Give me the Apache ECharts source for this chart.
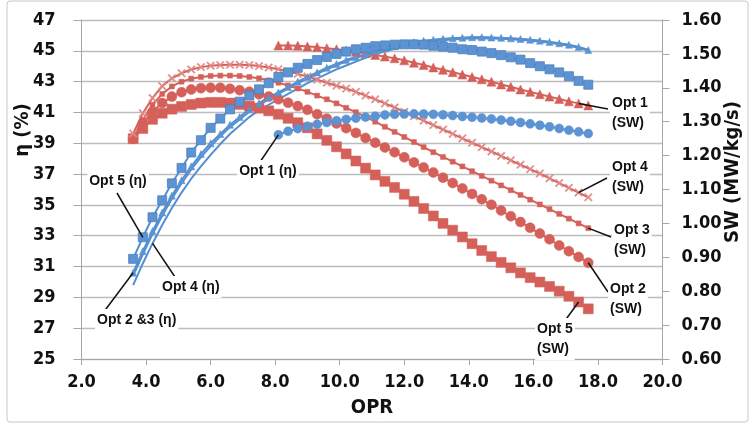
<!DOCTYPE html>
<html>
<head>
<meta charset="utf-8">
<script src="https://cdn.jsdelivr.net/npm/echarts@6/dist/echarts.min.js"></script>
<style>
html,body{margin:0;padding:0;background:#fff;}
#chart{width:749px;height:423px;}
</style>
</head>
<body>
<div id="chart"></div>
<script>
// ---------------- data ----------------
const opr = [3.6,3.9,4.2,4.5,4.8,5.1,5.4,5.7,6.0,6.3,6.6,6.9,7.2,7.5,7.8,8.1,8.4,8.7,9.0,9.3,9.6,9.9,10.2,10.5,10.8,11.1,11.4,11.7,12.0,12.3,12.6,12.9,13.2,13.5,13.8,14.1,14.4,14.7,15.0,15.3,15.6,15.9,16.2,16.5,16.8,17.1,17.4,17.7];
const oprOpt1 = [8.1,8.4,8.7,9.0,9.3,9.6,9.9,10.2,10.5,10.8,11.1,11.4,11.7,12.0,12.3,12.6,12.9,13.2,13.5,13.8,14.1,14.4,14.7,15.0,15.3,15.6,15.9,16.2,16.5,16.8,17.1,17.4,17.7];

// efficiency eta (%) - left axis
const etaOpt1 = [39.55,39.78,39.95,40.1,40.23,40.35,40.46,40.55,40.63,40.7,40.76,40.84,40.88,40.9,40.91,40.9,40.88,40.85,40.8,40.74,40.69,40.64,40.58,40.51,40.43,40.35,40.26,40.17,40.07,39.96,39.85,39.74,39.63];
const etaOpt2 = [30.6,32.0,33.3,34.5,35.6,36.6,37.5,38.3,39.0,39.6,40.2,40.7,41.2,41.6,42.0,42.3,42.65,43.0,43.3,43.6,43.9,44.15,44.4,44.6,44.8,45.0,45.15,45.3,45.45,45.55,45.65,45.72,45.78,45.82,45.85,45.88,45.88,45.86,45.84,45.81,45.77,45.72,45.66,45.58,45.49,45.39,45.25,45.05];
const etaOpt3 = [30.4,31.8,33.1,34.3,35.4,36.4,37.3,38.1,38.8,39.45,40.05,40.55,41.05,41.47,41.87,42.2,42.55,42.9,43.2,43.5,43.8,44.06,44.32,44.53,44.74,44.94,45.1,45.25,45.4,45.51,45.61,45.69,45.75,45.8,45.83,45.86,45.86,45.85,45.83,45.8,45.76,45.71,45.65,45.57,45.48,45.38,45.24,45.05];
const etaOpt4 = [29.8,31.2,32.5,33.7,34.8,35.8,36.7,37.5,38.25,38.95,39.6,40.15,40.7,41.15,41.5,41.85,42.2,42.55,42.9,43.2,43.5,43.8,44.05,44.3,44.55,44.77,44.97,45.14,45.3,45.43,45.53,45.62,45.69,45.74,45.78,45.8,45.81,45.8,45.78,45.75,45.71,45.66,45.6,45.52,45.43,45.33,45.2,45.0];
const etaOpt5 = [31.5,32.9,34.2,35.3,36.4,37.4,38.4,39.2,40.0,40.6,41.2,41.7,42.1,42.5,42.9,43.3,43.6,43.9,44.15,44.4,44.6,44.8,44.95,45.1,45.2,45.3,45.35,45.4,45.42,45.42,45.4,45.33,45.27,45.2,45.1,45.05,44.95,44.85,44.72,44.58,44.43,44.2,44.0,43.8,43.6,43.35,43.05,42.8];

// specific work SW (MW/kg/s) - right axis
const swOpt1 = [1.525,1.525,1.524,1.522,1.52,1.517,1.514,1.51,1.506,1.502,1.497,1.492,1.487,1.481,1.474,1.467,1.46,1.453,1.446,1.439,1.432,1.425,1.418,1.41,1.403,1.395,1.388,1.381,1.374,1.367,1.36,1.354,1.348];
const swOpt2 = [1.25,1.295,1.33,1.355,1.374,1.387,1.395,1.399,1.4,1.4,1.397,1.393,1.388,1.381,1.374,1.366,1.356,1.346,1.335,1.322,1.309,1.295,1.281,1.267,1.252,1.238,1.224,1.21,1.195,1.18,1.165,1.15,1.135,1.119,1.103,1.087,1.071,1.055,1.038,1.021,1.004,0.987,0.97,0.953,0.935,0.918,0.901,0.884];
const swOpt3 = [1.255,1.305,1.35,1.382,1.404,1.418,1.427,1.432,1.435,1.436,1.436,1.435,1.432,1.428,1.422,1.415,1.407,1.398,1.388,1.377,1.366,1.354,1.341,1.328,1.314,1.3,1.285,1.27,1.255,1.24,1.225,1.21,1.196,1.182,1.168,1.154,1.14,1.126,1.112,1.098,1.084,1.07,1.056,1.042,1.028,1.014,1.0,0.986];
const swOpt4 = [1.265,1.325,1.37,1.405,1.428,1.443,1.454,1.461,1.465,1.467,1.468,1.468,1.467,1.464,1.46,1.455,1.448,1.441,1.433,1.424,1.415,1.406,1.398,1.388,1.377,1.366,1.354,1.342,1.329,1.316,1.303,1.29,1.277,1.264,1.251,1.238,1.225,1.212,1.199,1.186,1.173,1.16,1.147,1.133,1.119,1.105,1.091,1.077];
const swOpt5 = [1.25,1.28,1.307,1.325,1.337,1.345,1.351,1.355,1.357,1.357,1.355,1.351,1.346,1.34,1.332,1.322,1.31,1.297,1.282,1.264,1.245,1.226,1.205,1.184,1.163,1.143,1.124,1.106,1.086,1.065,1.044,1.022,1.0,0.98,0.96,0.94,0.92,0.902,0.885,0.869,0.854,0.84,0.827,0.814,0.8,0.785,0.768,0.748];

// axis ticks
const xTicks = {min: 2, max: 20, step: 2};
const etaTicks = {min: 25, max: 47, step: 2};
const swTicks = {min: 0.6, max: 1.6, step: 0.1};

// ---------------- chart ----------------
const BLUE = '#5B93D3';
const BLUE_LINE = '#5390D0';
const RED = '#D5605A';
const FONT = "'Liberation Sans Narrow','DejaVu Sans Condensed','Liberation Sans',sans-serif";
const LFONT = "'Liberation Sans',Arial,sans-serif";

const zip = (xs, ys) => xs.map((x, i) => [x, ys[i]]);
const xPath = 'path://M0,1.2L1.2,0L5,3.8L8.8,0L10,1.2L6.2,5L10,8.8L8.8,10L5,6.2L1.2,10L0,8.8L3.8,5Z';

function mk(name, xs, ys, axis, color, symbol, size, lineColor, extra) {
  return Object.assign({
    name, type: 'line', yAxisIndex: axis, data: zip(xs, ys),
    symbol: symbol, symbolSize: size, showSymbol: symbol !== 'none',
    lineStyle: {color: lineColor || color, width: 2},
    itemStyle: {color: color, borderColor: color, borderWidth: 0.5},
    emphasis: {disabled: true}, z: 3
  }, extra || {});
}

const chart = echarts.init(document.getElementById('chart'), null, {renderer: 'canvas'});

const option = {
  animation: false,
  backgroundColor: '#fff',
  grid: {left: 81.5, right: 86.5, top: 20, bottom: 61, containLabel: false},
  xAxis: {
    type: 'value', min: xTicks.min, max: xTicks.max, interval: xTicks.step,
    axisLine: {show: true, lineStyle: {color: '#A6A6A6', width: 1}},
    axisTick: {show: true, inside: false, length: 6, lineStyle: {color: '#A6A6A6'}},
    splitLine: {show: false},
    axisLabel: {formatter: v => v.toFixed(1), margin: 14, color: '#111', fontFamily: FONT, fontWeight: 'bold', fontSize: 18},
    name: 'OPR', nameLocation: 'middle', nameGap: 39,
    nameTextStyle: {color: '#111', fontFamily: FONT, fontWeight: 'bold', fontSize: 20}
  },
  yAxis: [
    {
      type: 'value', min: etaTicks.min, max: etaTicks.max, interval: etaTicks.step, position: 'left',
      axisLine: {show: true, lineStyle: {color: '#A6A6A6', width: 1}},
      axisTick: {show: true, inside: false, length: 8, lineStyle: {color: '#A6A6A6'}},
      splitLine: {show: true, lineStyle: {color: '#BDBDBD', width: 1.3}},
      axisLabel: {margin: 26, color: '#111', fontFamily: FONT, fontWeight: 'bold', fontSize: 18}
    },
    {
      type: 'value', min: swTicks.min, max: swTicks.max, interval: swTicks.step, position: 'right',
      axisLine: {show: true, lineStyle: {color: '#A6A6A6', width: 1}},
      axisTick: {show: true, inside: false, length: 7, lineStyle: {color: '#A6A6A6'}},
      splitLine: {show: false},
      axisLabel: {formatter: v => v.toFixed(2), margin: 19, color: '#111', fontFamily: FONT, fontWeight: 'bold', fontSize: 18}
    }
  ],
  series: [
    mk('Opt 5 (SW)', opr, swOpt5, 1, RED, 'rect', 10),
    mk('Opt 2 (SW)', opr, swOpt2, 1, RED, 'circle', 10),
    mk('Opt 3 (SW)', opr, swOpt3, 1, RED, 'rect', 5),
    mk('Opt 4 (SW)', opr, swOpt4, 1, '#E08A85', xPath, 8, RED),
    mk('Opt 1 (SW)', oprOpt1, swOpt1, 1, RED, 'triangle', 9),
    mk('Opt 4 (η)', opr, etaOpt4, 0, BLUE, 'none', 0, BLUE_LINE),
    mk('Opt 3 (η)', opr, etaOpt3, 0, BLUE, 'none', 0, BLUE_LINE),
    mk('Opt 2 (η)', opr, etaOpt2, 0, BLUE, 'triangle', 7, BLUE_LINE),
    mk('Opt 1 (η)', oprOpt1, etaOpt1, 0, BLUE, 'circle', 9, BLUE_LINE),
    mk('Opt 5 (η)', opr, etaOpt5, 0, BLUE, 'rect', 9, BLUE_LINE, {itemStyle: {color: BLUE, borderColor: '#4F7FBF', borderWidth: 0.8}})
  ]
};
chart.setOption(option);

// ---------------- annotations (labels + leader lines) ----------------
function p(axis, x, y) { return chart.convertToPixel({xAxisIndex: 0, yAxisIndex: axis}, [x, y]); }
const notes = [
  {text: 'Opt 1 (η)',    axis: 0, xs: oprOpt1, ys: etaOpt1, i: 0,  end: [260, 162], at: [268, 171], align: 'center', va: 'middle'},
  {text: 'Opt 1\n(SW)',  axis: 1, xs: oprOpt1, ys: swOpt1,  i: 31, end: [608, 109], at: [610, 92],  align: 'left',   va: 'top'},
  {text: 'Opt 4\n(SW)',  axis: 1, xs: opr,     ys: swOpt4,  i: 46, end: [607, 178], at: [610, 156], align: 'left',   va: 'top'},
  {text: 'Opt 3\n(SW)',  axis: 1, xs: opr,     ys: swOpt3,  i: 47, end: [611, 237], at: [612, 219], align: 'left',   va: 'top'},
  {text: 'Opt 2\n(SW)',  axis: 1, xs: opr,     ys: swOpt2,  i: 47, end: [608, 292], at: [608, 278], align: 'left',   va: 'top'},
  {text: 'Opt 5\n(SW)',  axis: 1, xs: opr,     ys: swOpt5,  i: 46, end: [564, 322], at: [535, 318], align: 'left',   va: 'top'},
  {text: 'Opt 5 (η)',    axis: 0, xs: opr,     ys: etaOpt5, i: 1,  end: [117, 193], at: [118, 181], align: 'center', va: 'middle'},
  {text: 'Opt 4 (η)',    axis: 0, xs: opr,     ys: etaOpt4, i: 2,  end: [177, 280], at: [160, 287], align: 'left',   va: 'middle'},
  {text: 'Opt 2 &3 (η)', axis: 0, xs: opr,     ys: etaOpt2, i: 0,  end: [103, 313], at: [95, 320],  align: 'left',   va: 'middle'}
];
const graphics = [];
notes.forEach(n => {
  const a = p(n.axis, n.xs[n.i], n.ys[n.i]);
  graphics.push({type: 'line', z: 50, shape: {x1: a[0], y1: a[1], x2: n.end[0], y2: n.end[1]}, style: {stroke: '#111', lineWidth: 1.5}});
});
notes.forEach(n => {
  graphics.push({type: 'text', z: 60, x: n.at[0], y: n.at[1], style: {
    text: n.text, fill: '#111', font: 'bold 14px ' + LFONT, lineHeight: 20,
    align: n.align, verticalAlign: n.va, backgroundColor: '#fff', padding: [1, 2, 1, 2]
  }});
});
// axis titles on the sides
graphics.push({type: 'text', z: 60, x: 23, y: 130, rotation: Math.PI / 2, style: {
  text: 'η (%)', fill: '#111', font: 'bold 20px ' + FONT, align: 'center', verticalAlign: 'middle'}});
graphics.push({type: 'text', z: 60, x: 733, y: 172, rotation: Math.PI / 2, style: {
  text: 'SW (MW/kg/s)', fill: '#111', font: 'bold 20px ' + FONT, align: 'center', verticalAlign: 'middle'}});
// chart frame
graphics.push({type: 'rect', z: 0, silent: true, shape: {x: 7, y: 1, width: 741, height: 421, r: 3}, style: {fill: 'none', stroke: '#C8C8C8', lineWidth: 1}});
chart.setOption({graphic: graphics});
</script>
</body>
</html>
